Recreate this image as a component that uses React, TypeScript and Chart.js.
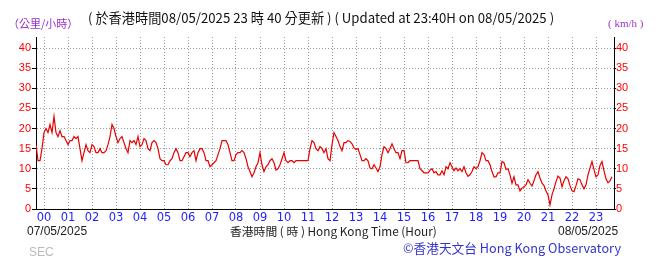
import React, { useEffect, useRef } from "react";
import { Chart, registerables } from "chart.js";

Chart.register(...registerables);

// Minutes since 23:40 on 07/05/2025; one reading every 5 minutes
const STEP_MIN = 5;
const X_MAX_MIN = 1445;
const FIRST_HOUR_OFFSET = 20; // 00:00 is 20 minutes after 23:40

const hourLabels = [
  "00", "01", "02", "03", "04", "05", "06", "07", "08", "09", "10", "11",
  "12", "13", "14", "15", "16", "17", "18", "19", "20", "21", "22", "23",
];
const speedTicks = [0, 5, 10, 15, 20, 25, 30, 35, 40];

// 23:40 - 05:35
const windA = [
  16, 12, 12, 15, 19, 20, 19, 21, 19, 23, 19, 18,
  19.5, 18, 18, 17, 16, 17, 17, 18, 17.5, 18, 15, 12,
  14, 16, 14.5, 14, 16, 15.5, 14, 14, 15, 14, 14, 14.5,
  16, 18, 21, 20, 18, 16.5, 17.5, 18, 16.5, 15, 14, 17,
  16.5, 17, 16, 18, 15.5, 16, 17.5, 17, 15, 14.5, 16.5, 17,
  16.5, 15, 12.5, 12, 12, 11, 11, 12, 12.5, 14, 15, 14,
];
// 05:40 - 11:35
const windB = [
  12, 12, 13, 14, 14, 13, 14, 14.5, 12, 14, 15, 15,
  14, 12, 12, 10.5, 11, 11.5, 12, 13.5, 15, 17, 17, 17,
  16, 14, 12, 12, 13.5, 14, 14, 14.5, 14, 12.5, 10.5, 9.3,
  8, 9, 10.5, 11.5, 14, 11, 9.3, 10.5, 11, 12, 12.5, 11.5,
  9.7, 10, 11, 12.5, 14, 12, 11.5, 12, 12, 11.5, 12, 12,
  12, 12, 12, 12, 12, 15, 17, 16.5, 15, 14.5, 15.5, 15,
];
// 11:40 - 17:35
const windC = [
  14, 15, 12.5, 12, 16, 19, 18, 17, 15.5, 14.5, 16.5, 16.5,
  17, 16.8, 16.2, 15.2, 14.8, 15, 13.5, 12, 12, 12.5, 12, 10.2,
  10, 11, 10.2, 9.3, 10.5, 13.5, 15.5, 15, 14, 15, 16.2, 15,
  14, 14, 12.5, 14.5, 14.5, 11.5, 11.5, 12, 12, 12, 12, 12,
  10, 9.5, 9, 9, 9, 9.6, 10, 9, 9.3, 8.5, 8.5, 9.5,
  8.5, 10.5, 10, 11.5, 10.5, 9.5, 10.2, 9.5, 10, 9.3, 10.5, 9,
];
// 17:40 - 23:40
const windD = [
  8.1, 8.5, 9.3, 10.5, 10, 10.5, 12, 14, 13.5, 12, 12, 11,
  9.3, 8, 8, 9, 9, 11.8, 11.5, 9.8, 10, 8.5, 6.4, 8,
  6, 6, 4.5, 5.2, 5.5, 6, 7.3, 6.4, 5.7, 7, 8.5, 9.3,
  7.7, 6.4, 5.8, 4.5, 3.5, 1, 3.5, 5, 6.8, 8.2, 7.7, 5.5,
  7, 8, 7.5, 5.8, 4.5, 4.3, 5.8, 7.5, 7.3, 6, 5, 6,
  8.5, 10.2, 11.8, 9.8, 8, 8.5, 10.8, 11.8, 9.5, 7.5, 6.5, 7,
  8,
];

const RED = "#ff0000";
const BLUE = "#1f1fff";
const PURPLE = "#9a30d0";

const txt = (
  left: number,
  top: number,
  text: string,
  style: React.CSSProperties
) => (
  <div
    style={{
      position: "absolute",
      left,
      top,
      whiteSpace: "nowrap",
      lineHeight: 1,
      ...style,
    }}
  >
    {text}
  </div>
);

export default function App() {
  const ref = useRef<HTMLCanvasElement>(null);

  useEffect(() => {
    const values = [...windA, ...windB, ...windC, ...windD];
    const points = values.map((v, i) => ({ x: i * STEP_MIN, y: v }));
    const chart = new Chart(ref.current as HTMLCanvasElement, {
      type: "line",
      data: {
        datasets: [
          {
            data: points,
            borderColor: "#e80000",
            borderWidth: 1.2,
            pointRadius: 0,
            tension: 0,
            fill: false,
            yAxisID: "y",
          },
        ],
      },
      options: {
        animation: false,
        responsive: false,
        events: [],
        plugins: { legend: { display: false }, tooltip: { enabled: false } },
        layout: { padding: { top: 37, left: 0, right: 0, bottom: 0 } },
        scales: {
          x: {
            type: "linear",
            min: 0,
            max: X_MAX_MIN,
            afterBuildTicks: (s: any) => {
              s.ticks = hourLabels.map((_, k) => ({ value: FIRST_HOUR_OFFSET + 60 * k }));
            },
            afterFit: (s: any) => {
              s.height = 50;
            },
            ticks: {
              autoSkip: false,
              maxRotation: 0,
              padding: 2,
              color: BLUE,
              font: { family: "DejaVu Sans", size: 11.5 },
              callback: (v: any) => hourLabels[Math.round((Number(v) - FIRST_HOUR_OFFSET) / 60)],
            },
            grid: { color: "#999999", drawTicks: false, lineWidth: 1 },
            border: { display: true, color: "#000", width: 1, dash: [1, 2] },
          },
          y: {
            type: "linear",
            position: "left",
            min: 0,
            max: 42.75,
            afterBuildTicks: (s: any) => {
              s.ticks = speedTicks.map((v) => ({ value: v }));
            },
            afterFit: (s: any) => {
              s.width = 36;
            },
            ticks: {
              padding: 1,
              color: RED,
              font: { family: "Liberation Sans Narrow, Liberation Sans", size: 11 },
            },
            grid: {
              color: "#999999",
              tickColor: "#000",
              tickLength: 4,
              tickBorderDash: [],
            },
            border: { display: true, color: "#000", width: 1, dash: [1, 2] },
          },
          y2: {
            type: "linear",
            position: "right",
            min: 0,
            max: 42.75,
            afterBuildTicks: (s: any) => {
              s.ticks = speedTicks.map((v) => ({ value: v }));
            },
            afterFit: (s: any) => {
              s.width = 41;
            },
            ticks: {
              padding: 0,
              color: RED,
              font: { family: "Liberation Sans Narrow, Liberation Sans", size: 11 },
            },
            grid: {
              drawOnChartArea: false,
              tickColor: "#000",
              tickLength: 2,
              tickBorderDash: [],
            },
            border: { display: true, color: "#000", width: 1 },
          },
        },
      },
    } as any);
    return () => chart.destroy();
  }, []);

  return (
    <div
      style={{
        position: "absolute",
        left: 0,
        top: 0,
        width: 655,
        height: 259,
        background: "#fff",
        overflow: "hidden",
      }}
    >
      <canvas ref={ref} width={655} height={259} style={{ display: "block" }} />
      {txt(8, 18, "（公里/小時）", {
        color: PURPLE,
        fontFamily: "Noto Sans CJK TC",
        fontSize: 11,
      })}
      {txt(88, 11, "( 於香港時間08/05/2025 23 時 40 分更新 )  ( Updated at 23:40H on 08/05/2025 )", {
        color: "#111",
        fontFamily: "Noto Sans CJK TC",
        fontSize: 13.2,
      })}
      {txt(608, 18, "( km/h )", {
        color: PURPLE,
        fontFamily: "Liberation Serif",
        fontSize: 11,
      })}
      {txt(27, 225, "07/05/2025", {
        color: "#222",
        fontFamily: "Liberation Sans",
        fontSize: 12,
      })}
      {txt(230, 225, "香港時間 ( 時 ) Hong Kong Time (Hour)", {
        color: "#222",
        fontFamily: "Noto Sans CJK TC",
        fontSize: 11.8,
      })}
      {txt(558, 225, "08/05/2025", {
        color: "#222",
        fontFamily: "Liberation Sans",
        fontSize: 12,
      })}
      {txt(29, 246, "SEC", {
        color: "#bbbbbb",
        fontFamily: "Liberation Sans",
        fontSize: 12,
      })}
      {txt(403, 242, "©香港天文台 Hong Kong Observatory", {
        color: "#3333cc",
        fontFamily: "Noto Sans CJK TC",
        fontSize: 12.7,
      })}
    </div>
  );
}
